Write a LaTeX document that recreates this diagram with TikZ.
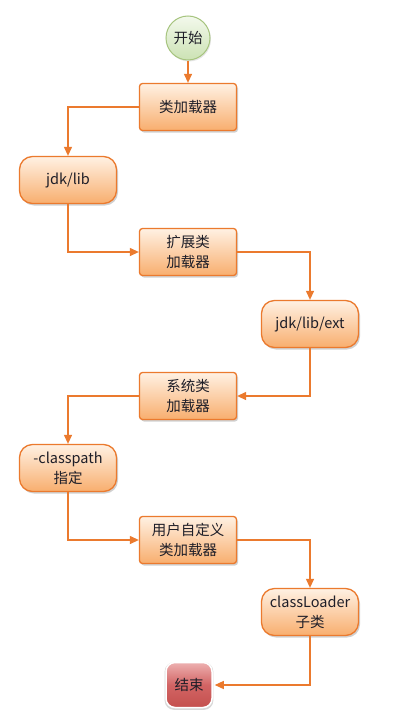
\documentclass[tikz,border=0pt]{standalone}
\usepackage{fontspec}
\setmainfont{Noto Sans CJK SC}
\usetikzlibrary{arrows.meta,shadows,positioning}
\definecolor{orbd}{HTML}{EB7A2E}
\definecolor{ortop}{HTML}{FFF1E3}
\definecolor{orbot}{HTML}{F8AE6E}
\definecolor{grbd}{HTML}{A6C47E}
\definecolor{grtop}{HTML}{F3F9EC}
\definecolor{grbot}{HTML}{CCE2B4}
\definecolor{rdtop}{HTML}{EDB0B0}
\definecolor{rdmid}{HTML}{D26464}
\definecolor{rdbot}{HTML}{C4504E}
\definecolor{txt}{HTML}{1E1E28}
\tikzset{
  base/.style={minimum width=97pt, minimum height=47pt, inner sep=0pt, align=center,
    text=txt, font=\fontsize{14.5}{20}\selectfont, line width=1.3pt,
    draw=orbd, top color=ortop, bottom color=orbot,
    drop shadow={shadow xshift=1.5pt, shadow yshift=-2pt, opacity=0.3, fill=black!60}},
  procbox/.style={base, rounded corners=3pt},
  databox/.style={base, rounded corners=13pt},
  startnode/.style={circle, minimum size=44pt, inner sep=0pt, draw=grbd, line width=1pt,
    top color=grtop, bottom color=grbot, text=txt, font=\fontsize{14.5}{20}\selectfont,
    drop shadow={shadow xshift=1pt, shadow yshift=-1.5pt, opacity=0.2, fill=black!50}},
  endnode/.style={minimum width=46pt, minimum height=45pt, inner sep=0pt, rounded corners=9pt,
    draw=white, line width=1.5pt, top color=rdtop, bottom color=rdbot, middle color=rdmid,
    text=txt, font=\fontsize{14.5}{20}\selectfont,
    drop shadow={shadow xshift=0pt, shadow yshift=-1pt, shadow scale=1.06, opacity=0.3, fill=black!50}},
  arr/.style={draw=orbd, line width=1.2pt, -{Triangle[length=9pt,width=8pt]}}
}
\begin{document}
\begin{tikzpicture}[x=1pt,y=-1pt]
\useasboundingbox[fill=white] (0,0) rectangle (404,720);
\node[startnode] (s) at (188,38) {开始};
\node[procbox] (c1) at (188,107) {类加载器};
\node[databox] (j1) at (68,180) {jdk/lib};
\node[procbox] (e1) at (188,252) {扩展类\\加载器};
\node[databox] (j2) at (310,324) {jdk/lib/ext};
\node[procbox] (s1) at (188,396) {系统类\\加载器};
\node[databox] (cp) at (68,468) {-classpath\\指定};
\node[procbox] (u1) at (188,540) {用户自定义\\类加载器};
\node[databox] (cl) at (310,612) {classLoader\\子类};
\node[endnode] (en) at (189,685) {结束};
\draw[arr] (s.south) -- (c1.north);
\draw[arr] (c1.west) -| (j1.north);
\draw[arr] (j1.south) |- (e1.west);
\draw[arr] (e1.east) -| (j2.north);
\draw[arr] (j2.south) |- (s1.east);
\draw[arr] (s1.west) -| (cp.north);
\draw[arr] (cp.south) |- (u1.west);
\draw[arr] (u1.east) -| (cl.north);
\draw[arr] (cl.south) |- ([xshift=2pt]en.east);
\end{tikzpicture}
\end{document}
